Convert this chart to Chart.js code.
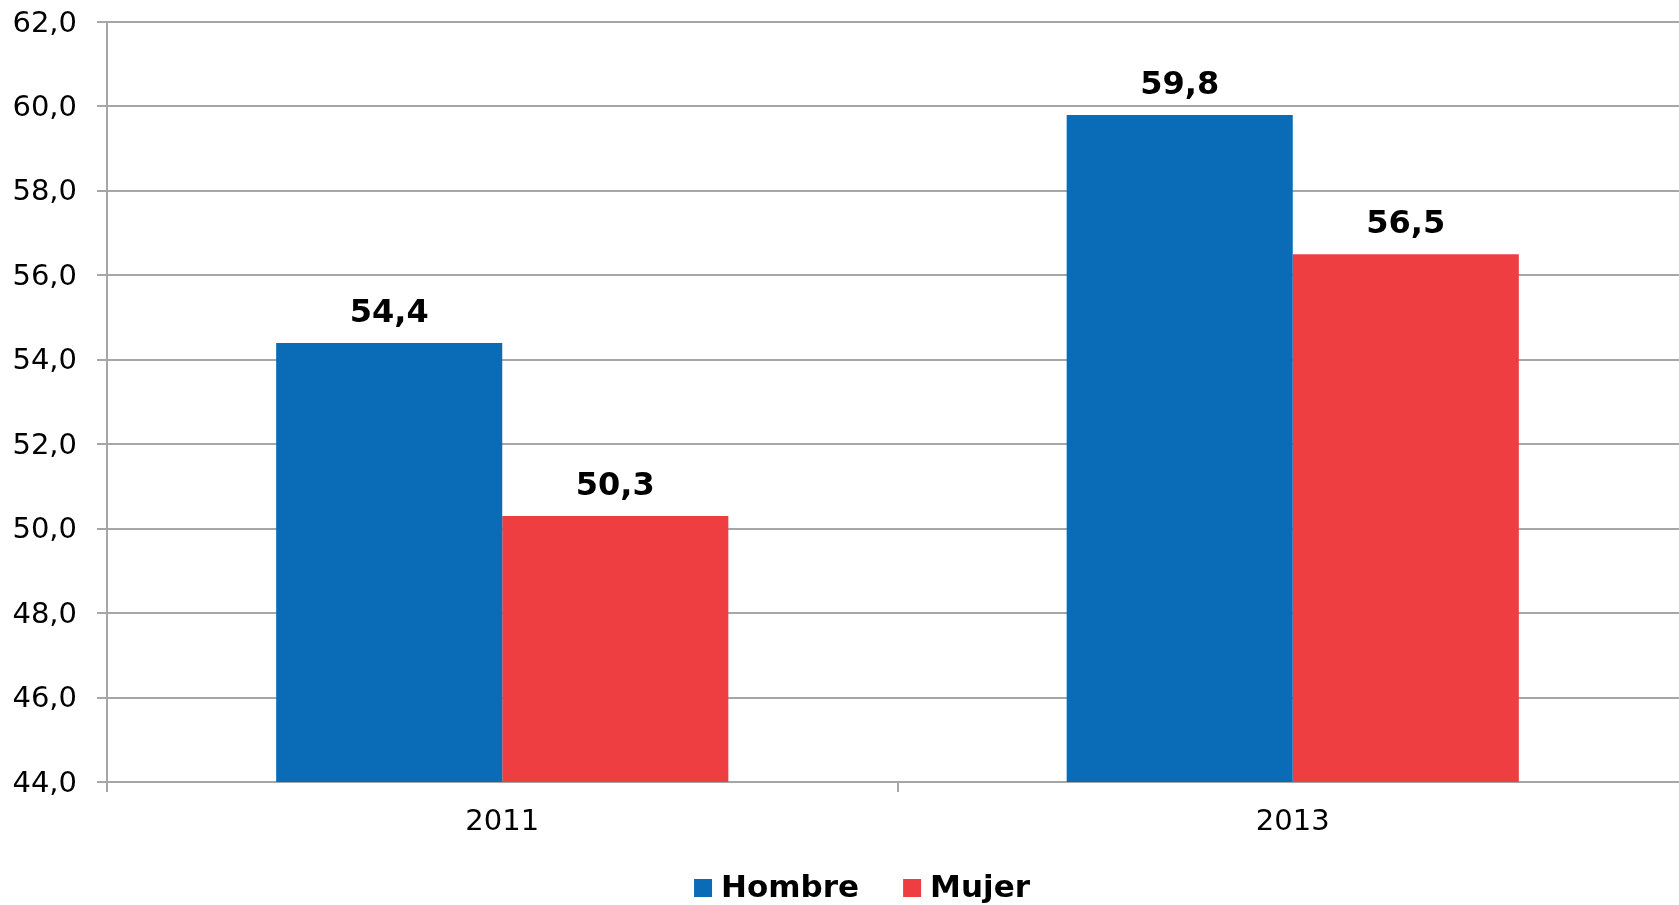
<!DOCTYPE html>
<html>
<head>
<meta charset="utf-8">
<script src="https://cdn.jsdelivr.net/npm/chart.js@4.4.1/dist/chart.umd.min.js"></script>
<style>
html,body{margin:0;padding:0;background:#fff;overflow:hidden;}
#wrap{position:relative;width:1688px;height:905px;}
</style>
</head>
<body>
<div id="wrap"><canvas id="c"></canvas></div>
<script>
const categories = ['2011', '2013'];
const hombre = [54.4, 59.8];
const mujer = [50.3, 56.5];
const seriesNames = ['Hombre', 'Mujer'];
const yMin = 44, yMax = 62, yStep = 2;

const fmt = v => v.toFixed(1).replace('.', ',');
const GRID = '#a6a6a6';
const FONT = '"DejaVu Sans", Verdana, sans-serif';

const dataLabels = {
  id: 'dataLabels',
  afterDatasetsDraw(chart) {
    const ctx = chart.ctx;
    ctx.save();
    ctx.font = 'bold 32px ' + FONT;
    ctx.fillStyle = '#000';
    ctx.textAlign = 'center';
    ctx.textBaseline = 'alphabetic';
    chart.data.datasets.forEach((ds, i) => {
      chart.getDatasetMeta(i).data.forEach((bar, j) => {
        ctx.fillText(fmt(ds.data[j]), bar.x, bar.y - 21);
      });
    });
    ctx.restore();
  }
};

const customLegend = {
  id: 'customLegend',
  afterDraw(chart, args, opts) {
    const ctx = chart.ctx;
    ctx.save();
    ctx.font = 'bold 31px ' + FONT;
    ctx.textBaseline = 'middle';
    ctx.textAlign = 'left';
    const box = 18, gapText = 9, gapItem = 44;
    const items = chart.data.datasets.map(d => ({ t: d.label, c: d.backgroundColor, w: ctx.measureText(d.label).width }));
    const total = items.reduce((s, it) => s + box + gapText + it.w, 0) + gapItem * (items.length - 1);
    let x = opts.centerX - total / 2;
    const y = opts.centerY;
    items.forEach(it => {
      ctx.fillStyle = it.c;
      ctx.fillRect(x, y - box / 2, box, box);
      ctx.fillStyle = '#000';
      ctx.fillText(it.t, x + box + gapText, y + 1);
      x += box + gapText + it.w + gapItem;
    });
    ctx.restore();
  }
};

new Chart(document.getElementById('c'), {
  type: 'bar',
  data: {
    labels: categories,
    datasets: [
      { label: seriesNames[0], data: hombre, backgroundColor: '#0a6cb6', borderWidth: 0 },
      { label: seriesNames[1], data: mujer, backgroundColor: '#ef3e42', borderWidth: 0 }
    ]
  },
  options: {
    responsive: true,
    maintainAspectRatio: false,
    animation: false,
    layout: { padding: { top: 22, right: 0, left: 0, bottom: 53 } },
    datasets: { bar: { categoryPercentage: 0.572, barPercentage: 1.0 } },
    plugins: {
      legend: { display: false },
      tooltip: { enabled: false },
      customLegend: { centerX: 862, centerY: 888 }
    },
    scales: {
      x: {
        grid: { drawOnChartArea: false, drawTicks: true, tickLength: 10, color: GRID, lineWidth: 2, offset: true },
        border: { color: GRID, width: 2 },
        ticks: { color: '#000', padding: 13, font: { family: FONT, size: 29 } },
        afterFit(s) { s.height = 70; s.paddingLeft = 0; s.paddingRight = 0; }
      },
      y: {
        min: yMin, max: yMax,
        ticks: { stepSize: yStep, color: '#000', padding: 20, labelOffset: 2, callback: v => fmt(v),
                 font: { family: FONT, size: 29 } },
        grid: { color: GRID, lineWidth: 2, tickLength: 10 },
        border: { color: GRID, width: 2 },
        afterFit(s) { s.width = 107; s.paddingTop = 0; s.paddingBottom = 0; }
      }
    }
  },
  plugins: [dataLabels, customLegend]
});
</script>
</body>
</html>
